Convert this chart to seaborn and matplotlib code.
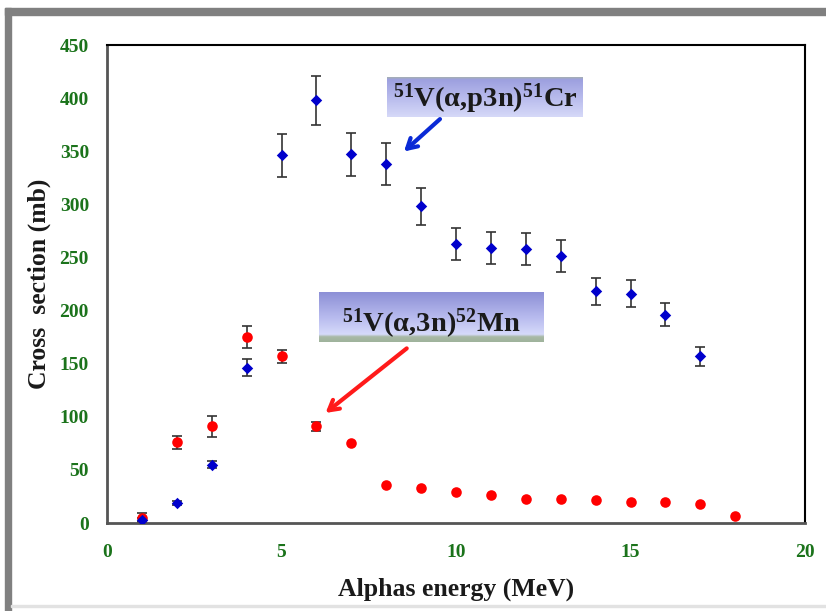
import numpy as np
import pandas as pd
import matplotlib
matplotlib.use("Agg")
import matplotlib.pyplot as plt
import seaborn as sns
from matplotlib.patches import Rectangle

# ---- data ----
energy_cr = [1, 2, 3, 4, 5, 6, 7, 8, 9, 10, 11, 12, 13, 14, 15, 16, 17]
xs_cr = [3, 19, 55, 146, 346, 398, 347, 338, 298, 263, 259, 258, 251, 218, 216, 196, 157]
err_cr = [2, 2, 3, 8, 20, 23, 20, 20, 17, 15, 15, 15, 15, 13, 13, 11, 9]

energy_mn = [1, 2, 3, 4, 5, 6, 7, 8, 9, 10, 11, 12, 13, 14, 15, 16, 17, 18]
xs_mn = [5, 76, 91, 175, 157, 91, 75, 36, 33, 29, 26, 23, 23, 22, 20, 20, 18, 7]
err_mn = [4, 6, 10, 10, 6, 4, 0, 0, 0, 0, 0, 0, 0, 0, 0, 0, 0, 0]

x_ticks = [0, 5, 10, 15, 20]
y_ticks = [0, 50, 100, 150, 200, 250, 300, 350, 400, 450]

label_cr = r'$^{51}$V(α,p3n)$^{51}$Cr'
label_mn = r'$^{51}$V(α,3n)$^{52}$Mn'

df_cr = pd.DataFrame({"E": energy_cr, "xs": xs_cr, "err": err_cr})
df_mn = pd.DataFrame({"E": energy_mn, "xs": xs_mn, "err": err_mn})

sns.set_style("white")
plt.rcParams['font.family'] = ['Liberation Serif', 'DejaVu Serif']
plt.rcParams['mathtext.fontset'] = 'custom'
plt.rcParams['mathtext.rm'] = 'Liberation Serif:bold'
plt.rcParams['mathtext.it'] = 'Liberation Serif:bold'
plt.rcParams['mathtext.bf'] = 'Liberation Serif:bold'

fig = plt.figure(figsize=(8.26, 6.11), dpi=100)
fig.patch.set_facecolor('white')
# gray frame
fig.patches.append(Rectangle((5/826, 0), 6/826, 1 - 8/611, transform=fig.transFigure,
                             color='#808080', zorder=0))
fig.patches.append(Rectangle((5/826, 1 - 15/611), 1, 7/611, transform=fig.transFigure,
                             color='#808080', zorder=0))
fig.patches.append(Rectangle((11/826, 4/611), 1, 2/611, transform=fig.transFigure,
                             color='#e2e2e2', zorder=0))

ax = fig.add_axes([107/826, 1 - 523/611, 698/826, 478/611])

mn_err = df_mn[df_mn["err"] > 0]
ax.errorbar(mn_err["E"], mn_err["xs"], yerr=mn_err["err"], fmt='none',
            ecolor='#333333', elinewidth=1.2, capsize=3.5, capthick=1.2, zorder=2)
ax.errorbar(df_cr["E"], df_cr["xs"], yerr=df_cr["err"], fmt='none',
            ecolor='#333333', elinewidth=1.2, capsize=3.5, capthick=1.2, zorder=2)
sns.scatterplot(data=df_mn, x="E", y="xs", ax=ax, marker='o', s=58,
                color='#ff0000', edgecolor='#ff0000', linewidth=0, zorder=3)
sns.scatterplot(data=df_cr, x="E", y="xs", ax=ax, marker='D', s=34,
                color='#0000cc', edgecolor='#0000cc', linewidth=0, zorder=4)

ax.set_xlim(0, 20)
ax.set_ylim(0, 450)
ax.set_xticks(x_ticks)
ax.set_yticks(y_ticks)
ax.set_xticklabels([str(t) for t in x_ticks])
ax.set_yticklabels([str(t) for t in y_ticks])
ax.tick_params(axis='both', which='major', direction='out', length=5, width=1,
               color='#808080', labelsize=14, labelcolor='#1b731b', pad=8)
ax.tick_params(axis='x', pad=10)
for lab in ax.get_xticklabels() + ax.get_yticklabels():
    lab.set_fontweight('bold')

for side in ['top', 'right']:
    ax.spines[side].set_color('#000000')
    ax.spines[side].set_linewidth(1.5)
for side in ['left', 'bottom']:
    ax.spines[side].set_color('#555555')
    ax.spines[side].set_linewidth(2)

ax.set_xlabel('Alphas energy (MeV)', fontsize=18.5, fontweight='bold', color='#1a1a1a', labelpad=12)
ax.set_ylabel('Cross  section (mb)', fontsize=18.5, fontweight='bold', color='#1a1a1a', labelpad=6)

# arrows
ax.annotate('', xy=(8.45, 348), xytext=(9.6, 382),
            arrowprops=dict(arrowstyle='->,head_length=0.7,head_width=0.4', color='#0a2ad6', lw=3))
ax.annotate('', xy=(6.2, 102), xytext=(8.65, 166),
            arrowprops=dict(arrowstyle='->,head_length=0.7,head_width=0.4', color='#ff1a1a', lw=3))

# gradient boxes
def grad_box(rect, colors, text, fs, ty):
    bax = fig.add_axes(rect)
    cmap = matplotlib.colors.LinearSegmentedColormap.from_list('g', colors)
    grad = np.linspace(0, 1, 100).reshape(-1, 1)
    bax.imshow(grad, aspect='auto', cmap=cmap, extent=[0, 1, 0, 1], origin='upper')
    bax.set_xlim(0, 1)
    bax.set_ylim(0, 1)
    bax.axis('off')
    bax.text(0.5, ty, text, ha='center', va='center', fontsize=fs,
             fontweight='bold', color='#1a1a1a')

grad_box([387/826, 1 - 117/611, 196/826, 40/611],
         [(0.0, '#a9b5a3'), (0.08, '#9da0df'), (0.5, '#b6b9ec'), (1.0, '#d6d9f8')],
         label_cr, 20.5, 0.45)
grad_box([319/826, 1 - 342/611, 225/826, 50/611],
         [(0.0, '#8d90d6'), (0.5, '#b7baee'), (0.85, '#d6dafa'), (0.9, '#a9b9a6'), (1.0, '#9fb39c')],
         label_mn, 20.5, 0.36)

fig.savefig('out.png', dpi=100)
